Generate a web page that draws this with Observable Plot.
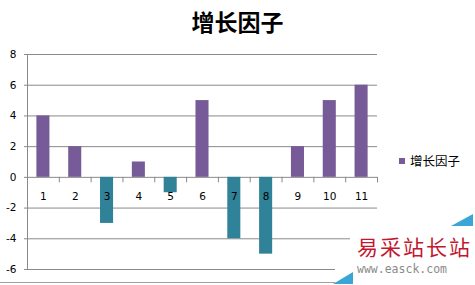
<!DOCTYPE html>
<html>
<head>
<meta charset="utf-8">
<script src="https://cdn.jsdelivr.net/npm/d3@7"></script>
<script src="https://cdn.jsdelivr.net/npm/@observablehq/plot@0.6"></script>
<style>
  body { margin: 0; background: #fff; }
  #wrap { position: relative; width: 475px; height: 285px; overflow: hidden; font-family: "DejaVu Sans", sans-serif; }
  #wrap svg { position: absolute; left: 0; top: 0; }
  .title { position: absolute; left: 0; width: 475px; top: 6px; text-align: center; font-family: "Noto Sans CJK SC", sans-serif; font-weight: 700; font-size: 23px; line-height: 30px; color: #000; }
  .legend { position: absolute; left: 399px; top: 151px; font-family: "Noto Sans CJK SC", sans-serif; font-size: 12.5px; line-height: 20px; color: #000; display: flex; align-items: center; }
  .legend .sw { width: 6px; height: 6px; margin-right: 5px; }
  .wm { position: absolute; background: #fff; }
  .wm1 { left: 350px; top: 229px; width: 125px; height: 56px; }
  .wm2 { left: 335px; top: 258px; width: 20px; height: 27px; }
  .wmcn { position: absolute; left: 357px; top: 233px; font-family: "Noto Sans CJK SC", serif; font-size: 21px; letter-spacing: 2px; color: #c3172f; line-height: 26px; }
  .wmen { position: absolute; left: 357px; top: 262px; font-family: "DejaVu Sans Mono", monospace; font-size: 11.5px; color: #8a8a8a; line-height: 14px; }
  .tri1 { position: absolute; left: 451px; top: 214px; width: 0; height: 0; border-left: 22px solid transparent; border-bottom: 12px solid #3aa6d6; }
  .tri2 { position: absolute; left: 333px; top: 272px; width: 0; height: 0; border-left: 20px solid transparent; border-bottom: 12px solid #3aa6d6; }
  .border { position: absolute; left: 0; top: 282px; width: 474px; height: 1px; background: #a0a0a0; }
</style>
</head>
<body>
<div id="wrap"></div>
<script>
const categories = ["1", "2", "3", "4", "5", "6", "7", "8", "9", "10", "11"];
const values = [4, 2, -3, 1, -1, 5, -4, -5, 2, 5, 6];
const yTicks = [-6, -4, -2, 0, 2, 4, 6, 8];
const seriesName = "增长因子";
const titleText = "增长因子";
const posColor = "#775a98";
const negColor = "#2f8298";
const gridColor = "#8a8a8a";

const data = categories.map((c, i) => ({cat: c, value: values[i]}));

const W = 475, H = 285, mL = 27, mR = 98, mT = 54, mB = 16;
const step = (W - mL - mR) / categories.length;

const chart = Plot.plot({
  width: W, height: H,
  marginLeft: mL, marginRight: mR, marginTop: mT, marginBottom: mB,
  style: {fontFamily: "DejaVu Sans, sans-serif", background: "transparent"},
  x: {type: "band", domain: categories, paddingInner: 0.59, paddingOuter: 0.295, round: false, axis: null},
  y: {domain: [-6, 8], axis: null},
  marks: [
    Plot.ruleY(yTicks, {stroke: gridColor, strokeWidth: 1, insetLeft: -3}),
    Plot.frame({anchor: "left", stroke: gridColor}),
    Plot.axisY({ticks: yTicks, tickSize: 0, tickPadding: 11, fontSize: 10.5, fill: "#000", label: null, tickFormat: d => d < 0 ? "-" + Math.abs(d) : String(d)}),
    Plot.ruleX(categories, {x: d => d, y1: 0, y2: -0.36, dx: -step / 2, stroke: gridColor}),
    Plot.ruleX([categories[categories.length - 1]], {x: d => d, y1: 0, y2: -0.36, dx: step / 2, stroke: gridColor}),
    Plot.barY(data, {x: "cat", y: "value", fill: d => d.value >= 0 ? posColor : negColor}),
    Plot.text(categories, {x: d => d, y: 0, dy: 19, fontSize: 10.5, fill: "#000"})
  ]
});

const wrap = document.getElementById("wrap");
wrap.appendChild(chart);

const t = document.createElement("div");
t.className = "title"; t.textContent = titleText;
wrap.appendChild(t);

const lg = document.createElement("div");
lg.className = "legend";
lg.innerHTML = `<span class="sw" style="background:${posColor}"></span><span>${seriesName}</span>`;
wrap.appendChild(lg);

wrap.insertAdjacentHTML("beforeend", `
  <div class="border"></div>
  <div class="wm wm1"></div><div class="wm wm2"></div>
  <div class="tri1"></div><div class="tri2"></div>
  <div class="wmcn">易采站长站</div>
  <div class="wmen">www.easck.com</div>
`);
</script>
</body>
</html>
